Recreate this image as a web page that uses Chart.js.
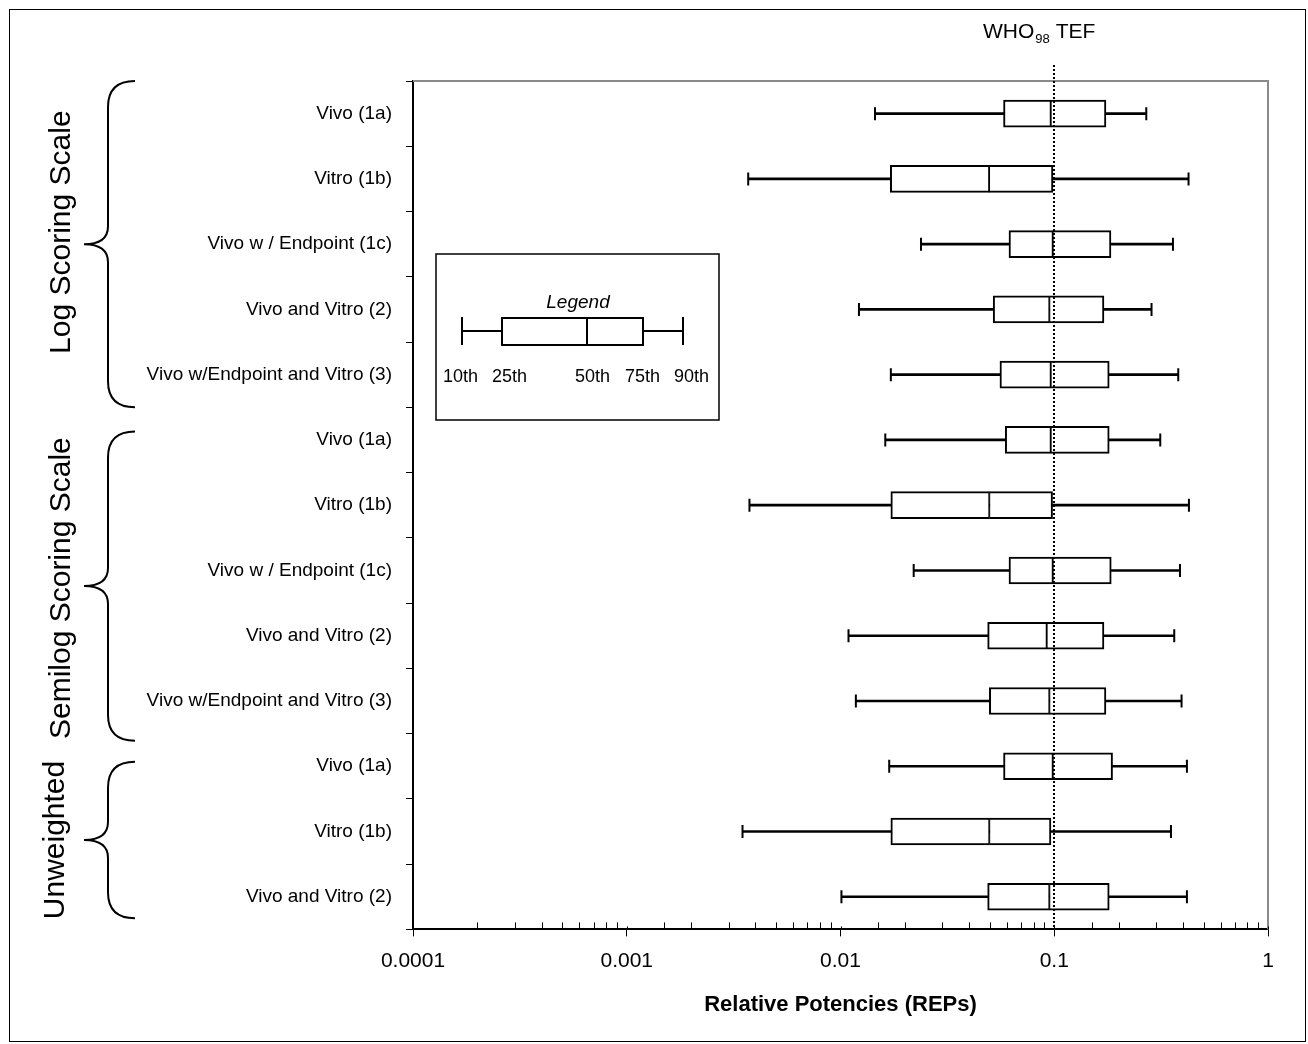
<!DOCTYPE html>
<html>
<head>
<meta charset="utf-8">
<title>Relative Potencies (REPs)</title>
<script src="https://cdn.jsdelivr.net/npm/chart.js@4.4.1/dist/chart.umd.min.js"></script>
<style>
  html, body { margin: 0; padding: 0; background: #fff; overflow: hidden; }
  #wrap { position: relative; width: 1308px; height: 1044px; }
</style>
</head>
<body>
<div id="wrap"><canvas id="repChart"></canvas></div>
<script>
// categories, top to bottom
const categories = [
  'Vivo (1a)', 'Vitro (1b)', 'Vivo w / Endpoint (1c)', 'Vivo and Vitro (2)', 'Vivo w/Endpoint and Vitro (3)',
  'Vivo (1a)', 'Vitro (1b)', 'Vivo w / Endpoint (1c)', 'Vivo and Vitro (2)', 'Vivo w/Endpoint and Vitro (3)',
  'Vivo (1a)', 'Vitro (1b)', 'Vivo and Vitro (2)'
];
// percentiles of the REP distributions
const p10 = [0.0145, 0.0037, 0.0238, 0.0122, 0.0172, 0.0162, 0.00375, 0.0220, 0.0109, 0.0118, 0.0169, 0.00348, 0.0101];
const p25 = [0.0579, 0.0171, 0.0614, 0.0518, 0.0557, 0.0590, 0.0172, 0.0614, 0.0488, 0.0497, 0.0579, 0.0172, 0.0488];
const p50 = [0.0965, 0.0497, 0.0986, 0.0951, 0.0965, 0.0965, 0.0498, 0.0986, 0.0924, 0.0951, 0.0986, 0.0498, 0.0951];
const p75 = [0.1745, 0.0986, 0.1842, 0.1708, 0.1808, 0.1808, 0.0982, 0.1848, 0.1708, 0.1745, 0.1874, 0.0965, 0.1808];
const p90 = [0.2695, 0.4249, 0.3592, 0.2852, 0.3803, 0.3133, 0.4267, 0.3874, 0.3642, 0.3941, 0.4175, 0.3516, 0.4175];

const groupNames = ['Log Scoring Scale', 'Semilog Scoring Scale', 'Unweighted'];

const whoTef = 0.1;
const xTickLabels = [0.0001, 0.001, 0.01, 0.1, 1];
const legendLabels = ['10th', '25th', '50th', '75th', '90th'];

const FONT = 'Liberation Sans, Arial, Helvetica, sans-serif';
Chart.defaults.font.family = FONT;
Chart.defaults.color = '#000';

const isDecade = v => Math.abs(Math.log10(v) - Math.round(Math.log10(v))) < 1e-9;

// brace extents in row units (they do not sit exactly on row boundaries)
const braceSpan = [[-0.5, 4.5], [4.87, 9.61], [9.93, 12.33]];
const groupTextX = [70, 70, 64];
const groupTextShift = [-12, 2, 0];

function drawBrace(ctx, xEnd, xV, xTip, y0, y1) {
  const ym = (y0 + y1) / 2;
  const r = 26, rt = 18;
  ctx.beginPath();
  ctx.moveTo(xEnd, y0);
  ctx.quadraticCurveTo(xV, y0, xV, y0 + r);
  ctx.lineTo(xV, ym - rt);
  ctx.quadraticCurveTo(xV, ym, xTip, ym);
  ctx.quadraticCurveTo(xV, ym, xV, ym + rt);
  ctx.lineTo(xV, y1 - r);
  ctx.quadraticCurveTo(xV, y1, xEnd, y1);
  ctx.stroke();
}

const decorations = {
  id: 'decorations',
  afterDraw(chart) {
    const { ctx, chartArea: a, scales: { x, y } } = chart;
    ctx.save();

    // outer frame
    ctx.strokeStyle = '#000';
    ctx.lineWidth = 1;
    ctx.strokeRect(9.5, 9.5, chart.width - 12, chart.height - 12);

    // grey top and right plot border
    ctx.strokeStyle = '#8a8a8a';
    ctx.lineWidth = 2;
    ctx.beginPath();
    ctx.moveTo(a.left, a.top);
    ctx.lineTo(a.right, a.top);
    ctx.lineTo(a.right, a.bottom);
    ctx.stroke();

    // inward x ticks
    ctx.strokeStyle = '#000';
    ctx.lineWidth = 1;
    x.ticks.forEach(t => {
      const px = Math.round(x.getPixelForValue(t.value)) + 0.5;
      const len = isDecade(t.value) ? 3 : 7;
      ctx.beginPath();
      ctx.moveTo(px, a.bottom);
      ctx.lineTo(px, a.bottom - len);
      ctx.stroke();
    });

    // WHO98 TEF dotted line + label
    const tx = Math.round(x.getPixelForValue(whoTef));
    ctx.strokeStyle = '#000';
    ctx.lineWidth = 2;
    ctx.setLineDash([2, 2]);
    ctx.beginPath();
    ctx.moveTo(tx, a.top - 16);
    ctx.lineTo(tx, a.bottom);
    ctx.stroke();
    ctx.setLineDash([]);

    ctx.fillStyle = '#000';
    ctx.textBaseline = 'alphabetic';
    ctx.textAlign = 'left';
    let lx = tx - 71;
    ctx.font = '21px ' + FONT;
    ctx.fillText('WHO', lx, 38);
    lx += ctx.measureText('WHO').width + 1;
    ctx.font = '13px ' + FONT;
    ctx.fillText('98', lx, 43);
    lx += ctx.measureText('98').width + 6;
    ctx.font = '21px ' + FONT;
    ctx.fillText('TEF', lx, 38);

    // group braces and labels
    ctx.lineWidth = 2;
    groupNames.forEach((name, i) => {
      const y0 = y.getPixelForValue(braceSpan[i][0]);
      const y1 = y.getPixelForValue(braceSpan[i][1]);
      drawBrace(ctx, 135, 108, 84, y0, y1);
      ctx.save();
      ctx.translate(groupTextX[i], (y0 + y1) / 2 + groupTextShift[i]);
      ctx.rotate(-Math.PI / 2);
      ctx.font = '30px ' + FONT;
      ctx.textAlign = 'center';
      ctx.textBaseline = 'alphabetic';
      ctx.fillText(name, 0, 0);
      ctx.restore();
    });

    // inset legend
    const bx = a.left + 23, by = a.top + 173;
    ctx.lineWidth = 1.5;
    ctx.strokeRect(bx, by, 283, 166);
    ctx.font = 'italic 19px ' + FONT;
    ctx.textAlign = 'center';
    ctx.textBaseline = 'middle';
    ctx.fillText('Legend', bx + 142, by + 49);
    ctx.lineWidth = 2;
    ctx.beginPath();
    ctx.moveTo(bx + 26, by + 77); ctx.lineTo(bx + 66, by + 77);
    ctx.moveTo(bx + 207, by + 77); ctx.lineTo(bx + 247, by + 77);
    ctx.moveTo(bx + 26, by + 63); ctx.lineTo(bx + 26, by + 91);
    ctx.moveTo(bx + 247, by + 63); ctx.lineTo(bx + 247, by + 91);
    ctx.moveTo(bx + 151, by + 64); ctx.lineTo(bx + 151, by + 91);
    ctx.stroke();
    ctx.strokeRect(bx + 66, by + 64, 141, 27);
    ctx.font = '18px ' + FONT;
    ctx.textAlign = 'left';
    const legendX = [7, 56, 139, 189, 238];
    legendLabels.forEach((s, i) => ctx.fillText(s, bx + legendX[i], by + 123));

    ctx.restore();
  }
};

const rows = categories.map((_, i) => i);

new Chart(document.getElementById('repChart'), {
  type: 'bar',
  data: {
    labels: categories,
    datasets: [
      {
        label: 'whisker',
        data: rows.map(i => [p10[i], p90[i]]),
        backgroundColor: '#000',
        borderWidth: 0,
        barThickness: 2,
        grouped: false,
        order: 3
      },
      {
        label: '25th-50th',
        data: rows.map(i => [p25[i], p50[i]]),
        backgroundColor: '#fff',
        borderColor: '#000',
        borderWidth: { top: 2, bottom: 2, left: 2, right: 1.5 },
        borderSkipped: false,
        barThickness: 27,
        grouped: false,
        order: 2
      },
      {
        label: '50th-75th',
        data: rows.map(i => [p50[i], p75[i]]),
        backgroundColor: '#fff',
        borderColor: '#000',
        borderWidth: { top: 2, bottom: 2, left: 1, right: 2 },
        borderSkipped: false,
        barThickness: 27,
        grouped: false,
        order: 2
      },
      {
        type: 'scatter',
        label: 'caps',
        yAxisID: 'yRow',
        data: rows.flatMap(i => [{ x: p10[i], y: i }, { x: p90[i], y: i }]),
        pointStyle: 'line',
        rotation: 90,
        radius: 6.5,
        borderColor: '#000',
        borderWidth: 2,
        showLine: false,
        order: 1
      }
    ]
  },
  options: {
    indexAxis: 'y',
    responsive: true,
    maintainAspectRatio: false,
    animation: false,
    events: [],
    layout: { padding: { top: 81, right: 40, bottom: 26, left: 0 } },
    plugins: {
      legend: { display: false },
      tooltip: { enabled: false }
    },
    scales: {
      x: {
        type: 'logarithmic',
        min: 0.0001,
        max: 1,
        border: { color: '#000', width: 2 },
        grid: {
          drawOnChartArea: false,
          drawTicks: true,
          tickLength: 7,
          tickColor: c => (c.tick && isDecade(c.tick.value)) ? '#000' : 'rgba(0,0,0,0)',
          tickWidth: 1
        },
        ticks: {
          autoSkip: false,
          maxRotation: 0,
          padding: 12,
          font: { size: 21 },
          callback: v => xTickLabels.some(t => Math.abs(t - v) / t < 1e-9) ? String(v) : ''
        },
        title: {
          display: true,
          text: 'Relative Potencies (REPs)',
          font: { size: 22, weight: 'bold' },
          padding: { top: 6, bottom: 0 }
        }
      },
      y: {
        type: 'category',
        labels: categories,
        offset: true,
        border: { color: '#000', width: 2 },
        grid: {
          offset: true,
          drawOnChartArea: false,
          drawTicks: true,
          tickLength: 7,
          color: '#000',
          tickColor: '#000',
          lineWidth: 1
        },
        ticks: {
          padding: 14,
          font: { size: 19 },
          autoSkip: false
        },
        afterFit: s => { s.width = 413; }
      },
      yRow: {
        type: 'linear',
        display: false,
        offset: false,
        grid: { offset: false },
        reverse: true,
        min: -0.5,
        max: categories.length - 0.5
      }
    }
  },
  plugins: [decorations]
});
</script>
</body>
</html>
